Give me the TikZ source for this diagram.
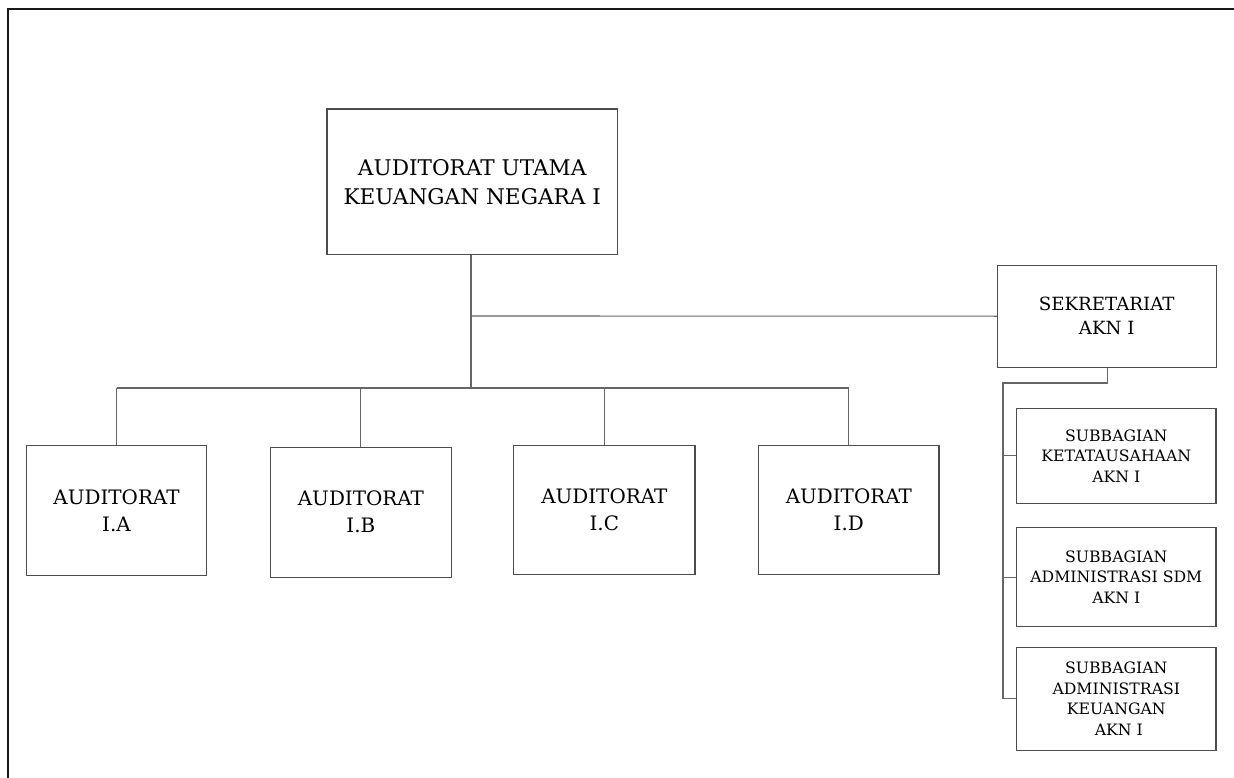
\documentclass[tikz,border=0pt]{standalone}
\usepackage{fontspec}
\setmainfont{DejaVu Serif}
\begin{document}
\begin{tikzpicture}[x=1pt,y=-1pt,
  box/.style={draw=black!70,line width=1.1pt,fill=white,inner sep=0pt,align=center,text=black},
  link/.style={draw=black!60,line width=1.1pt},
  frameline/.style={draw=black!90,line width=2pt},
  bigtxt/.style={font=\fontsize{21.6}{29}\selectfont},
  audtxt/.style={font=\fontsize{19.9}{27}\selectfont},
  sektxt/.style={font=\fontsize{18.2}{24}\selectfont},
  subtxt/.style={font=\fontsize{15.7}{20.5}\selectfont}]
\useasboundingbox (0,0) rectangle (1234,778);
\coordinate (fa) at (8,778);
\coordinate (fb) at (8,9);
\coordinate (fc) at (1234,9);
\draw[frameline] (fa) -- (fb) -- (fc);

\node[box,bigtxt,minimum width=290.5pt,minimum height=145.3pt] (main) at (472.2,181.7) {AUDITORAT UTAMA\\KEUANGAN NEGARA I};

\node[box,audtxt,minimum width=179.6pt,minimum height=129.3pt] (ia) at (116.5,510.4) {AUDITORAT\\I.A};
\node[box,audtxt,minimum width=181.7pt,minimum height=129.7pt] (ib) at (360.9,512.2) {AUDITORAT\\I.B};
\node[box,audtxt,minimum width=181.3pt,minimum height=128.6pt] (ic) at (604.3,510) {AUDITORAT\\I.C};
\node[box,audtxt,minimum width=180.3pt,minimum height=128.6pt] (id) at (848.8,510) {AUDITORAT\\I.D};

\node[box,sektxt,minimum width=218.7pt,minimum height=102.3pt] (sek) at (1106.7,316.2) {SEKRETARIAT\\AKN I};

\node[box,subtxt,minimum width=199.3pt,minimum height=95.5pt] (sa) at (1116.3,455.8) {SUBBAGIAN\\KETATAUSAHAAN\\AKN I};
\node[box,subtxt,minimum width=199.3pt,minimum height=99pt] (sb) at (1116.3,577.2) {SUBBAGIAN\\ADMINISTRASI SDM\\AKN I};
\node[box,subtxt,minimum width=199.3pt,minimum height=103.7pt] (sc) at (1116.3,698.9) {SUBBAGIAN\\ADMINISTRASI\\KEUANGAN\\~AKN I};

% main trunk
\coordinate (bus) at (471,388);
\coordinate (tee) at (471,316);
\draw[link] (main.south -| bus) -- (bus);
\draw[link] (tee) -- (sek.west);
\draw[link] (ia.north |- bus) -- (id.north |- bus);
\foreach \n in {ia,ib,ic,id} \draw[link] (\n.north |- bus) -- (\n.north);

% secretariat branch
\coordinate (sbend) at (1107.7,383);
\coordinate (sleft) at (1003,383);
\draw[link] (sek.south -| sbend) -- (sbend) -- (sleft) -- (sleft |- sc.west);
\foreach \n in {sa,sb,sc} \draw[link] (sleft |- \n.west) -- (\n.west);
\end{tikzpicture}
\end{document}
